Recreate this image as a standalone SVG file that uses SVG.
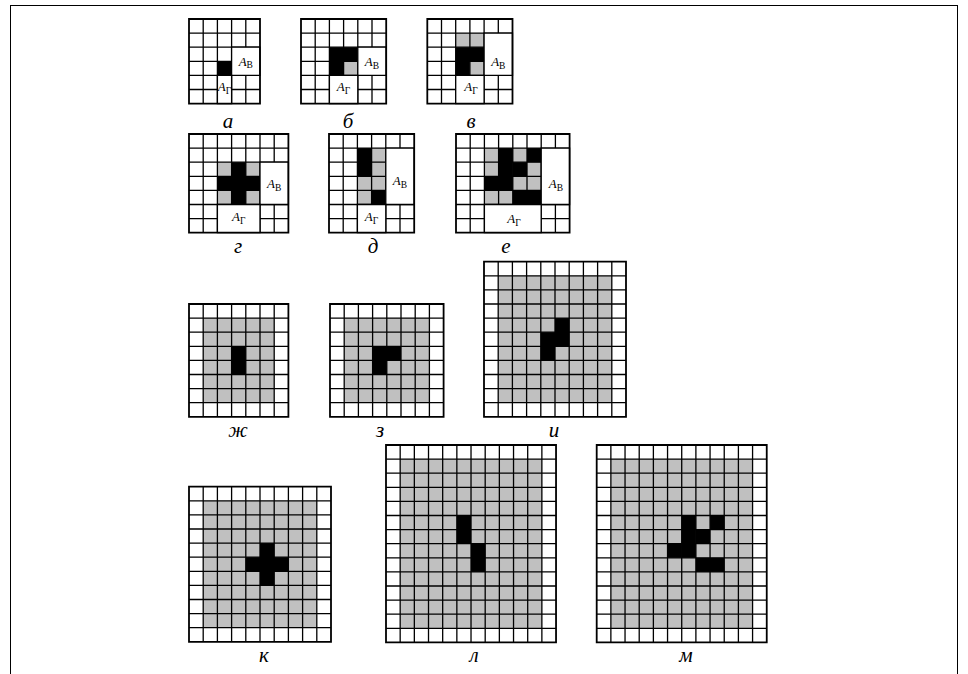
<svg xmlns="http://www.w3.org/2000/svg" width="968" height="674" viewBox="0 0 968 674">
<style>
.ln{fill:none;stroke:#000;stroke-width:1.3;vector-effect:non-scaling-stroke}
.bd{fill:none;stroke:#000;stroke-width:1.8;vector-effect:non-scaling-stroke}
.m{fill:#fff;stroke:#000;stroke-width:1.3;vector-effect:non-scaling-stroke}
.g{fill:#c0c0c0}
.k{fill:#000}
.lab{font-family:"Liberation Serif",serif;font-style:italic;font-size:21px;text-anchor:middle;fill:#000}
.A{font-family:"Liberation Serif",serif;font-size:13px;text-anchor:middle;fill:#000}
.i{font-style:italic}
.s{font-size:9.5px}
.frame{fill:none;stroke:#000;stroke-width:1}
</style>
<rect class="frame" x="10.5" y="5.5" width="947" height="700"/>

<g id="grid-a">
<g transform="translate(189,19) scale(14.2,14.1)">
<rect class="k" x="2" y="3" width="1" height="1"/>
<path class="ln" d="M0,1H5M0,2H5M0,3H5M0,4H5M0,5H5M1,0V6M2,0V6M3,0V6M4,0V6"/>
<rect class="m" x="3" y="2" width="2" height="2"/>
<rect class="m" x="2" y="4" width="1" height="2"/>
<rect class="bd" x="0" y="0" width="5" height="6"/>
</g>
<text class="A" x="245.8" y="65.5"><tspan class="i">A</tspan><tspan class="s" dy="2.5">В</tspan></text>
<text class="A" x="224.5" y="91"><tspan class="i">A</tspan><tspan class="s" dy="2.5">Г</tspan></text>
<text class="lab" x="228" y="128">а</text>
</g>

<g id="grid-b">
<g transform="translate(301,19) scale(14.2,14.1)">
<rect class="k" x="2" y="2" width="2" height="1"/>
<rect class="k" x="2" y="3" width="1" height="1"/>
<rect class="g" x="3" y="3" width="1" height="1"/>
<path class="ln" d="M0,1H6M0,2H6M0,3H6M0,4H6M0,5H6M1,0V6M2,0V6M3,0V6M4,0V6M5,0V6"/>
<rect class="m" x="4" y="2" width="2" height="2"/>
<rect class="m" x="2" y="4" width="2" height="2"/>
<rect class="bd" x="0" y="0" width="6" height="6"/>
</g>
<text class="A" x="372" y="66"><tspan class="i">A</tspan><tspan class="s" dy="2.5">В</tspan></text>
<text class="A" x="343.6" y="91"><tspan class="i">A</tspan><tspan class="s" dy="2.5">Г</tspan></text>
<text class="lab" x="348" y="128">б</text>
</g>

<g id="grid-v">
<g transform="translate(427.3,19) scale(14.2,14.1)">
<rect class="g" x="2" y="1" width="2" height="1"/>
<rect class="k" x="2" y="2" width="2" height="1"/>
<rect class="k" x="2" y="3" width="1" height="1"/>
<rect class="g" x="3" y="3" width="1" height="1"/>
<path class="ln" d="M0,1H6M0,2H6M0,3H6M0,4H6M0,5H6M1,0V6M2,0V6M3,0V6M4,0V6M5,0V6"/>
<rect class="m" x="4" y="1" width="2" height="3"/>
<rect class="m" x="2" y="4" width="2" height="2"/>
<rect class="bd" x="0" y="0" width="6" height="6"/>
</g>
<text class="A" x="498.3" y="66"><tspan class="i">A</tspan><tspan class="s" dy="2.5">В</tspan></text>
<text class="A" x="471" y="91"><tspan class="i">A</tspan><tspan class="s" dy="2.5">Г</tspan></text>
<text class="lab" x="471" y="128">в</text>
</g>

<g id="grid-g">
<g transform="translate(189,134) scale(14.2,14.1)">
<rect class="g" x="2" y="2" width="3" height="3"/>
<rect class="k" x="3" y="2" width="1" height="3"/>
<rect class="k" x="2" y="3" width="3" height="1"/>
<path class="ln" d="M0,1H7M0,2H7M0,3H7M0,4H7M0,5H7M0,6H7M1,0V7M2,0V7M3,0V7M4,0V7M5,0V7M6,0V7"/>
<rect class="m" x="5" y="2" width="2" height="3"/>
<rect class="m" x="2" y="5" width="3" height="2"/>
<rect class="bd" x="0" y="0" width="7" height="7"/>
</g>
<text class="A" x="274.2" y="188"><tspan class="i">A</tspan><tspan class="s" dy="2.5">В</tspan></text>
<text class="A" x="238.7" y="221"><tspan class="i">A</tspan><tspan class="s" dy="2.5">Г</tspan></text>
<text class="lab" x="238" y="253">г</text>
</g>

<g id="grid-d">
<g transform="translate(329,134) scale(14.2,14.1)">
<rect class="g" x="2" y="1" width="2" height="4"/>
<rect class="k" x="2" y="1" width="1" height="2"/>
<rect class="k" x="3" y="4" width="1" height="1"/>
<path class="ln" d="M0,1H6M0,2H6M0,3H6M0,4H6M0,5H6M0,6H6M1,0V7M2,0V7M3,0V7M4,0V7M5,0V7"/>
<rect class="m" x="4" y="1" width="2" height="4"/>
<rect class="m" x="2" y="5" width="2" height="2"/>
<rect class="bd" x="0" y="0" width="6" height="7"/>
</g>
<text class="A" x="400" y="185"><tspan class="i">A</tspan><tspan class="s" dy="2.5">В</tspan></text>
<text class="A" x="371.6" y="221"><tspan class="i">A</tspan><tspan class="s" dy="2.5">Г</tspan></text>
<text class="lab" x="373" y="253">д</text>
</g>

<g id="grid-e">
<g transform="translate(456,134) scale(14.2,14.1)">
<rect class="g" x="2" y="1" width="4" height="4"/>
<rect class="k" x="3" y="1" width="1" height="3"/>
<rect class="k" x="5" y="1" width="1" height="1"/>
<rect class="k" x="4" y="2" width="1" height="1"/>
<rect class="k" x="2" y="3" width="1" height="1"/>
<rect class="k" x="4" y="4" width="2" height="1"/>
<path class="ln" d="M0,1H8M0,2H8M0,3H8M0,4H8M0,5H8M0,6H8M1,0V7M2,0V7M3,0V7M4,0V7M5,0V7M6,0V7M7,0V7"/>
<rect class="m" x="6" y="1" width="2" height="4"/>
<rect class="m" x="2" y="5" width="4" height="2"/>
<rect class="bd" x="0" y="0" width="8" height="7"/>
</g>
<text class="A" x="556" y="188"><tspan class="i">A</tspan><tspan class="s" dy="2.5">В</tspan></text>
<text class="A" x="514" y="223"><tspan class="i">A</tspan><tspan class="s" dy="2.5">Г</tspan></text>
<text class="lab" x="506" y="253">е</text>
</g>

<g id="grid-zh">
<g transform="translate(189,304) scale(14.2,14.1)">
<rect class="g" x="1" y="1" width="5" height="6"/>
<rect class="k" x="3" y="3" width="1" height="2"/>
<path class="ln" d="M0,1H7M0,2H7M0,3H7M0,4H7M0,5H7M0,6H7M0,7H7M1,0V8M2,0V8M3,0V8M4,0V8M5,0V8M6,0V8"/>
<rect class="bd" x="0" y="0" width="7" height="8"/>
</g>
<text class="lab" x="238" y="437">ж</text>
</g>

<g id="grid-z">
<g transform="translate(330,304) scale(14.2,14.1)">
<rect class="g" x="1" y="1" width="6" height="6"/>
<rect class="k" x="3" y="3" width="2" height="1"/>
<rect class="k" x="3" y="4" width="1" height="1"/>
<path class="ln" d="M0,1H8M0,2H8M0,3H8M0,4H8M0,5H8M0,6H8M0,7H8M1,0V8M2,0V8M3,0V8M4,0V8M5,0V8M6,0V8M7,0V8"/>
<rect class="bd" x="0" y="0" width="8" height="8"/>
</g>
<text class="lab" x="380" y="437">з</text>
</g>

<g id="grid-i">
<g transform="translate(484,261.7) scale(14.2,14.1)">
<rect class="g" x="1" y="1" width="8" height="9"/>
<rect class="k" x="5" y="4" width="1" height="2"/>
<rect class="k" x="4" y="5" width="1" height="2"/>
<path class="ln" d="M0,1H10M0,2H10M0,3H10M0,4H10M0,5H10M0,6H10M0,7H10M0,8H10M0,9H10M0,10H10M1,0V11M2,0V11M3,0V11M4,0V11M5,0V11M6,0V11M7,0V11M8,0V11M9,0V11"/>
<rect class="bd" x="0" y="0" width="10" height="11"/>
</g>
<text class="lab" x="554" y="437">и</text>
</g>

<g id="grid-k">
<g transform="translate(189,486.7) scale(14.2,14.1)">
<rect class="g" x="1" y="1" width="8" height="9"/>
<rect class="k" x="5" y="4" width="1" height="3"/>
<rect class="k" x="4" y="5" width="3" height="1"/>
<path class="ln" d="M0,1H10M0,2H10M0,3H10M0,4H10M0,5H10M0,6H10M0,7H10M0,8H10M0,9H10M0,10H10M1,0V11M2,0V11M3,0V11M4,0V11M5,0V11M6,0V11M7,0V11M8,0V11M9,0V11"/>
<rect class="bd" x="0" y="0" width="10" height="11"/>
</g>
<text class="lab" x="264" y="662">к</text>
</g>

<g id="grid-l">
<g transform="translate(386,445) scale(14.17,14.1)">
<rect class="g" x="1" y="1" width="10" height="12"/>
<rect class="k" x="5" y="5" width="1" height="2"/>
<rect class="k" x="6" y="7" width="1" height="2"/>
<path class="ln" d="M0,1H12M0,2H12M0,3H12M0,4H12M0,5H12M0,6H12M0,7H12M0,8H12M0,9H12M0,10H12M0,11H12M0,12H12M0,13H12M1,0V14M2,0V14M3,0V14M4,0V14M5,0V14M6,0V14M7,0V14M8,0V14M9,0V14M10,0V14M11,0V14"/>
<rect class="bd" x="0" y="0" width="12" height="14"/>
</g>
<text class="lab" x="474" y="662">л</text>
</g>

<g id="grid-m">
<g transform="translate(596.7,445) scale(14.17,14.1)">
<rect class="g" x="1" y="1" width="10" height="12"/>
<rect class="k" x="6" y="5" width="1" height="3"/>
<rect class="k" x="8" y="5" width="1" height="1"/>
<rect class="k" x="7" y="6" width="1" height="1"/>
<rect class="k" x="5" y="7" width="1" height="1"/>
<rect class="k" x="7" y="8" width="2" height="1"/>
<path class="ln" d="M0,1H12M0,2H12M0,3H12M0,4H12M0,5H12M0,6H12M0,7H12M0,8H12M0,9H12M0,10H12M0,11H12M0,12H12M0,13H12M1,0V14M2,0V14M3,0V14M4,0V14M5,0V14M6,0V14M7,0V14M8,0V14M9,0V14M10,0V14M11,0V14"/>
<rect class="bd" x="0" y="0" width="12" height="14"/>
</g>
<text class="lab" x="686" y="662">м</text>
</g>
</svg>
